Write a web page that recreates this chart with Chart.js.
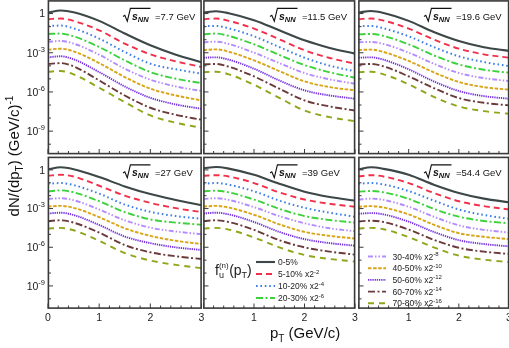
<!DOCTYPE html>
<html><head><meta charset="utf-8">
<script src="https://cdn.jsdelivr.net/npm/chart.js@4.4.0/dist/chart.umd.min.js"></script>
<style>
html,body{margin:0;padding:0;background:#fff;}
#wrap{position:relative;width:509px;height:348px;overflow:hidden;background:#fff;}
#wrap canvas{position:absolute;left:0;top:0;}
</style></head><body><div id="wrap"></div>
<script>
// ---------- data ----------
const pT = [0, 0.25, 0.5, 1, 1.5, 2, 2.5, 3];
const centralityLabels = ['0-5%','5-10%','10-20%','20-30%','30-40%','40-50%','50-60%','60-70%','70-80%'];
const scalePowers = [0,-2,-4,-6,-8,-10,-12,-14,-16];
const energyLabels = ['7.7','11.5','19.6','27','39','54.4'];
const yTickExponents = [0,-3,-6,-9];
const xTickLabels = [0,1,2,3];

// log10 of the plotted dN/dpT (scale factors included); one row per centrality, columns follow pT
const log_7_7 = [
[0.08,0.23,0.10,-0.56,-1.53,-2.43,-3.15,-3.73],
[-0.43,-0.38,-0.56,-1.28,-2.30,-3.12,-3.66,-4.09],
[-0.95,-0.92,-1.13,-1.92,-2.94,-3.84,-4.27,-4.60],
[-1.56,-1.53,-1.74,-2.56,-3.58,-4.48,-4.99,-5.32],
[-2.17,-2.10,-2.30,-3.15,-4.22,-5.06,-5.58,-5.93],
[-2.76,-2.69,-2.89,-3.79,-4.86,-5.75,-6.27,-6.65],
[-3.35,-3.27,-3.50,-4.48,-5.58,-6.45,-6.96,-7.29],
[-3.86,-3.79,-4.04,-5.12,-6.27,-7.21,-7.75,-8.13],
[-4.45,-4.40,-4.65,-5.68,-6.78,-7.80,-8.36,-8.75]];
const log_11_5 = [
[0.08,0.18,0.03,-0.51,-1.28,-2.05,-2.63,-3.07],
[-0.43,-0.38,-0.56,-1.15,-1.97,-2.81,-3.40,-3.84],
[-0.97,-0.95,-1.13,-1.74,-2.56,-3.38,-3.99,-4.42],
[-1.59,-1.53,-1.71,-2.35,-3.17,-3.94,-4.50,-4.91],
[-2.20,-2.15,-2.33,-2.99,-3.79,-4.55,-5.04,-5.37],
[-2.79,-2.74,-2.92,-3.58,-4.40,-5.19,-5.63,-5.88],
[-3.38,-3.35,-3.53,-4.22,-5.12,-5.88,-6.27,-6.52],
[-3.89,-3.86,-4.07,-4.81,-5.75,-6.65,-7.11,-7.42],
[-4.48,-4.45,-4.65,-5.45,-6.45,-7.42,-7.93,-8.24]];
const log_19_6 = [
[0.08,0.20,0.05,-0.56,-1.41,-2.10,-2.58,-2.86],
[-0.43,-0.38,-0.54,-1.15,-1.99,-2.69,-3.12,-3.38],
[-0.97,-0.95,-1.13,-1.74,-2.56,-3.27,-3.71,-4.02],
[-1.59,-1.56,-1.71,-2.35,-3.20,-3.89,-4.30,-4.53],
[-2.20,-2.17,-2.33,-2.99,-3.84,-4.55,-4.94,-5.17],
[-2.79,-2.76,-2.94,-3.63,-4.50,-5.24,-5.63,-5.83],
[-3.38,-3.35,-3.53,-4.27,-5.19,-5.93,-6.32,-6.52],
[-3.89,-3.86,-4.04,-4.81,-5.70,-6.47,-6.83,-7.03],
[-4.48,-4.45,-4.65,-5.42,-6.37,-7.11,-7.47,-7.67]];
const log_27 = [
[0.05,0.20,0.05,-0.56,-1.28,-1.87,-2.33,-2.74],
[-0.46,-0.38,-0.51,-1.23,-1.99,-2.56,-2.97,-3.27],
[-1.07,-1.02,-1.18,-1.84,-2.69,-3.25,-3.58,-3.79],
[-1.66,-1.59,-1.74,-2.43,-3.27,-3.84,-4.09,-4.25],
[-2.25,-2.20,-2.35,-3.07,-3.91,-4.48,-4.78,-4.99],
[-2.84,-2.79,-2.94,-3.66,-4.53,-5.12,-5.50,-5.75],
[-3.38,-3.32,-3.50,-4.27,-5.17,-5.68,-6.01,-6.21],
[-3.96,-3.91,-4.09,-4.86,-5.83,-6.39,-6.70,-6.91],
[-4.55,-4.50,-4.68,-5.50,-6.45,-7.03,-7.37,-7.62]];
const log_39 = [
[0.13,0.23,0.10,-0.38,-1.07,-1.69,-2.10,-2.38],
[-0.46,-0.41,-0.51,-1.02,-1.74,-2.30,-2.63,-2.86],
[-1.07,-1.02,-1.15,-1.66,-2.38,-2.94,-3.32,-3.63],
[-1.66,-1.61,-1.74,-2.30,-3.02,-3.58,-3.89,-4.09],
[-2.25,-2.20,-2.33,-2.89,-3.58,-4.14,-4.53,-4.76],
[-2.84,-2.79,-2.92,-3.48,-4.22,-4.81,-5.12,-5.32],
[-3.38,-3.32,-3.45,-4.04,-4.81,-5.37,-5.68,-5.88],
[-3.96,-3.91,-4.04,-4.65,-5.45,-6.01,-6.34,-6.57],
[-4.55,-4.50,-4.63,-5.24,-6.01,-6.60,-6.91,-7.11]];
const log_54_4 = [
[0.05,0.20,0.08,-0.38,-1.15,-1.79,-2.23,-2.51],
[-0.51,-0.41,-0.51,-1.02,-1.79,-2.43,-2.81,-3.07],
[-1.07,-1.02,-1.13,-1.64,-2.38,-3.07,-3.50,-3.79],
[-1.69,-1.64,-1.74,-2.25,-3.02,-3.63,-3.96,-4.14],
[-2.30,-2.23,-2.33,-2.86,-3.63,-4.30,-4.65,-4.86],
[-2.86,-2.81,-2.92,-3.45,-4.25,-4.91,-5.19,-5.37],
[-3.40,-3.35,-3.45,-4.02,-4.81,-5.45,-5.75,-5.93],
[-3.99,-3.94,-4.04,-4.63,-5.42,-6.04,-6.34,-6.52],
[-4.55,-4.50,-4.60,-5.22,-6.01,-6.65,-6.96,-7.16]];
const panelData = [log_7_7, log_11_5, log_19_6, log_27, log_39, log_54_4];

// ---------- styles / layout ----------
const W = 509, H = 348;
const FONT = '"Liberation Sans", Arial, Helvetica, sans-serif';
const yLogMin = -10.75, yLogMax = 1.0;
const seriesColors = ['#3d4747','#f2304a','#3d7ee8','#3cd23c','#b48cff','#d9a416','#7430e0','#6c3a3a','#8ea619'];
const seriesDash = [[],[6,4],[1.6,2.8],[7,2.5,2,2.5],[5,2,1.5,2,1.5,2],[3.5,1.6],[1.3,0.9],[7,2.5,2,2.5],[6,5]];
const seriesWidth = [2.1,1.9,2,1.9,1.9,1.9,1.9,1.9,1.9];
const panelBoxes = [
  {l:48,    r:201.5, t:0.5, b:154},
  {l:203.5, r:355,   t:0.5, b:154},
  {l:358.5, r:509,   t:0.5, b:154},
  {l:48,    r:201.5, t:157, b:308.5},
  {l:203.5, r:355,   t:157, b:308.5},
  {l:358.5, r:509,   t:157, b:308.5}];
const titleX = [123, 270, 424];
const FRAME = '#3a3a3a';

function segFont(s){ return `${s.st||''} ${s.sz}px ${FONT}`; }
function richWidth(ctx, segs){ let w=0; for(const s of segs){ ctx.font=segFont(s); w+=ctx.measureText(s.t).width; } return w; }
function richDraw(ctx, x, y, segs){ for(const s of segs){ ctx.font=segFont(s); ctx.fillText(s.t, x, y+(s.dy||0)); x+=ctx.measureText(s.t).width; } return x; }
function seg(ctx,x1,y1,x2,y2){ ctx.beginPath(); ctx.moveTo(x1,y1); ctx.lineTo(x2,y2); ctx.stroke(); }

function drawTitle(ctx, x, cy, energy){
  ctx.save();
  ctx.strokeStyle='#111'; ctx.lineWidth=1.1; ctx.setLineDash([]);
  ctx.beginPath();
  ctx.moveTo(x, cy+0.5); ctx.lineTo(x+1.8, cy-0.6); ctx.lineTo(x+4.3, cy+5.2);
  ctx.lineTo(x+7.4, cy-7.6); ctx.lineTo(x+27.5, cy-7.6);
  ctx.stroke();
  ctx.fillStyle='#111';
  ctx.font = `italic bold 10.5px ${FONT}`; ctx.fillText('s', x+9, cy+3.5);
  const sw = ctx.measureText('s').width;
  ctx.font = `italic bold 7.5px ${FONT}`; ctx.fillText('NN', x+9+sw, cy+5.5);
  ctx.font = `9.5px ${FONT}`; ctx.fillText('=' + energy + ' GeV', x+32, cy+3.5);
  ctx.restore();
}

function legendLabel(k){
  const segs=[{t:centralityLabels[k], sz:8.5}];
  if (scalePowers[k] !== 0){ segs.push({t:' x2', sz:8.5}); segs.push({t:String(scalePowers[k]), sz:6, dy:-3.5}); }
  return segs;
}

function drawLegend(chart, spec){
  const ctx = chart.ctx;
  spec.items.forEach((k, i)=>{
    const ds = chart.data.datasets[k];
    const y = spec.y0 + i*spec.dy;
    ctx.save();
    ctx.strokeStyle = ds.borderColor; ctx.lineWidth = ds.borderWidth; ctx.setLineDash(ds.borderDash||[]);
    seg(ctx, spec.sx0, y, spec.sx1, y);
    ctx.restore();
    ctx.fillStyle='#222';
    richDraw(ctx, spec.tx, y+3, legendLabel(k));
  });
}

const panelDeco = {
  id:'panelDeco',
  afterDatasetsDraw(chart, args, o){
    const ctx = chart.ctx, a = chart.chartArea, xs = chart.scales.x, ys = chart.scales.y;
    ctx.save();
    ctx.setLineDash([]);
    ctx.strokeStyle = FRAME; ctx.lineWidth = 1;
    // x ticks (inward)
    for (let i=0;i<=15;i++){
      const px = xs.getPixelForValue(i/5);
      const len = (i%5===0) ? 5 : 3;
      seg(ctx, px, a.bottom, px, a.bottom-len);
    }
    // y ticks each decade (inward)
    for (let e=-10;e<=0;e++){
      const py = ys.getPixelForValue(Math.pow(10,e));
      const len = (e%3===0) ? 5 : 3;
      seg(ctx, a.left, py, a.left+len, py);
    }
    // frame
    ctx.lineWidth = 1.6;
    ctx.strokeRect(a.left+0.4, a.top+0.4, a.right-a.left-0.8, a.bottom-a.top-0.8);
    ctx.fillStyle = '#222';
    // y tick labels
    if (o.yLabels){
      yTickExponents.forEach(e=>{
        const py = ys.getPixelForValue(Math.pow(10,e));
        const segs = e===0 ? [{t:'1', sz:10.5}] : [{t:'10', sz:10.5},{t:String(e), sz:7.5, dy:-5}];
        const w = richWidth(ctx, segs);
        richDraw(ctx, a.left-3-w, py+3.8, segs);
      });
    }
    // x tick labels
    if (o.xLabels){
      ctx.font = `10.5px ${FONT}`; ctx.textAlign='center';
      xTickLabels.forEach(v=>{
        if (v===0 && o.skipZero) return;
        ctx.fillText(String(v), xs.getPixelForValue(v), a.bottom+12.5);
      });
      ctx.textAlign='left';
    }
    drawTitle(ctx, o.titleX, a.top+15.5, o.energy);
    if (o.legend) drawLegend(chart, o.legend);
    if (o.fLabel){
      const fx = 215, fb = 275;
      ctx.fillStyle='#222';
      ctx.font = `14px ${FONT}`; ctx.fillText('f', fx, fb);
      const fw = ctx.measureText('f').width;
      ctx.font = `8px ${FONT}`; ctx.fillText('(n)', fx+fw, fb-7);
      const nw = ctx.measureText('(n)').width;
      ctx.font = `9px ${FONT}`; ctx.fillText('u', fx+fw, fb+3);
      richDraw(ctx, fx+fw+nw+0.5, fb, [{t:'(p',sz:14},{t:'T',sz:9,dy:3},{t:')',sz:14}]);
    }
    if (o.axisTitles){
      ctx.fillStyle='#111';
      const xsegs=[{t:'p',sz:15},{t:'T',sz:10,dy:4},{t:' (GeV/c)',sz:15}];
      richDraw(ctx, 270, 337.5, xsegs);
      const ysegs=[{t:'dN/(dp',sz:15},{t:'T',sz:10,dy:4},{t:') (GeV/c)',sz:15},{t:'-1',sz:10,dy:-6}];
      const w = richWidth(ctx, ysegs);
      ctx.save(); ctx.translate(18.5, 156); ctx.rotate(-Math.PI/2);
      richDraw(ctx, -w/2, 0, ysegs);
      ctx.restore();
    }
    ctx.restore();
  }
};

const legendMid = {items:[0,1,2,3], y0:262, dy:12, sx0:256, sx1:275, tx:278};
const legendRight = {items:[4,5,6,7,8], y0:256.5, dy:11.7, sx0:368, sx1:386, tx:392.5};

const wrap = document.getElementById('wrap');
panelData.forEach((logs, p)=>{
  const cv = document.createElement('canvas');
  cv.width = W; cv.height = H; cv.style.width = W+'px'; cv.style.height = H+'px';
  wrap.appendChild(cv);
  const box = panelBoxes[p], col = p%3, row = Math.floor(p/3);
  const datasets = logs.map((vals, k)=>({
    label: centralityLabels[k],
    data: pT.map((x,i)=>({x:x, y:Math.pow(10, vals[i])})),
    borderColor: seriesColors[k], borderWidth: seriesWidth[k], borderDash: seriesDash[k],
    pointRadius:0, fill:false, cubicInterpolationMode:'monotone'
  }));
  new Chart(cv, {
    type:'line',
    data:{datasets},
    options:{
      responsive:false, animation:false, devicePixelRatio:1, events:[],
      layout:{padding:{left:box.l, right:W-box.r, top:box.t, bottom:H-box.b}},
      scales:{
        x:{type:'linear', min:0, max:3, display:false},
        y:{type:'logarithmic', min:Math.pow(10,yLogMin), max:Math.pow(10,yLogMax), display:false}
      },
      plugins:{
        legend:{display:false}, tooltip:{enabled:false},
        panelDeco:{
          yLabels: col===0, xLabels: row===1, skipZero: col>0,
          titleX: titleX[col], energy: energyLabels[p],
          legend: p===4 ? legendMid : (p===5 ? legendRight : null),
          fLabel: p===4, axisTitles: p===0
        }
      }
    },
    plugins:[panelDeco]
  });
});
</script>
</body></html>
